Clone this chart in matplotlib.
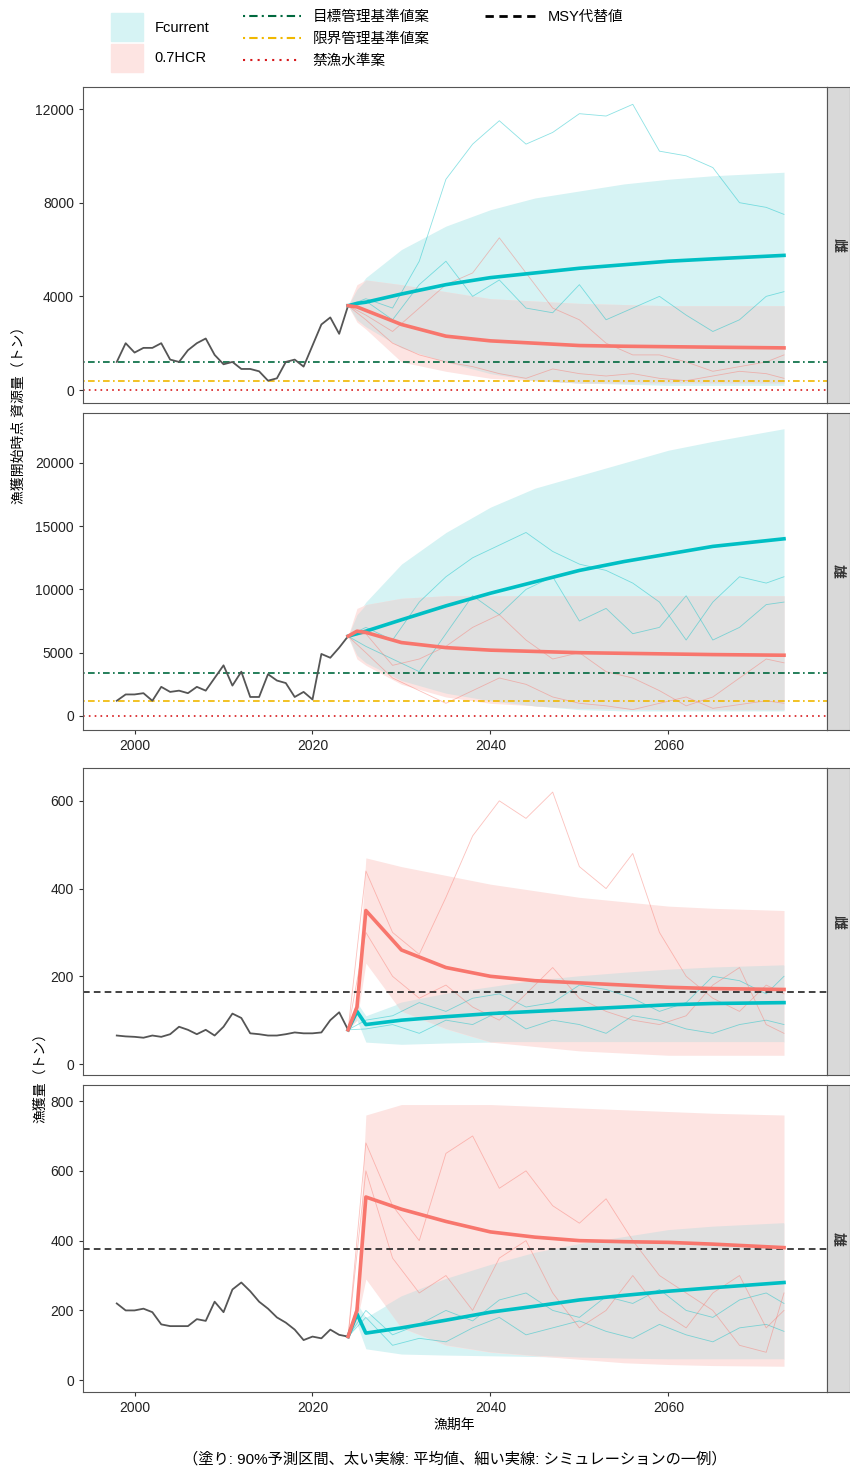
import matplotlib.pyplot as plt
from matplotlib.patches import Patch
from matplotlib.lines import Line2D

plt.rcParams['font.family'] = ['Liberation Sans', 'Noto Sans CJK JP', 'DejaVu Sans']

hist_years = list(range(1998, 2025))
band_years = [2024, 2025, 2026, 2030, 2035, 2040, 2045, 2050, 2055, 2060, 2065, 2073]
sim_years = [2024, 2026, 2029, 2032, 2035, 2038, 2041, 2044, 2047, 2050, 2053, 2056, 2059, 2062, 2065, 2068, 2071, 2073]

# panel 1: biomass, female
p1_hist = [1200, 2000, 1600, 1800, 1800, 2000, 1300, 1200, 1700, 2000, 2200, 1500, 1100, 1200, 900, 900,
           800, 400, 500, 1200, 1300, 1000, 1900, 2800, 3100, 2400, 3600]
p1_fc_mean = [3600, 3700, 3750, 4100, 4500, 4800, 5000, 5200, 5350, 5500, 5600, 5750]
p1_fc_hi = [3600, 4300, 4800, 6000, 7000, 7700, 8200, 8500, 8800, 9000, 9150, 9300]
p1_fc_lo = [3600, 3000, 2700, 1800, 1200, 700, 400, 300, 250, 200, 200, 200]
p1_hcr_mean = [3600, 3550, 3400, 2800, 2300, 2100, 2000, 1900, 1870, 1850, 1830, 1800]
p1_hcr_hi = [3600, 4500, 4700, 4500, 4200, 3900, 3800, 3700, 3650, 3600, 3600, 3600]
p1_hcr_lo = [3600, 2900, 2600, 1200, 800, 500, 400, 300, 300, 300, 300, 300]
p1_fc_sims = [[3600, 3900, 3500, 5500, 9000, 10500, 11500, 10500, 11000, 11800, 11700, 12200, 10200, 10000, 9500, 8000, 7800, 7500],
              [3600, 3800, 3000, 4500, 5500, 4000, 4700, 3500, 3300, 4500, 3000, 3500, 4000, 3200, 2500, 3000, 4000, 4200]]
p1_hcr_sims = [[3600, 3200, 2500, 3500, 4500, 5000, 6500, 5000, 3500, 3000, 2000, 1500, 1500, 1200, 800, 1000, 1200, 1500],
               [3600, 3000, 2000, 1500, 1200, 1000, 700, 500, 900, 700, 600, 700, 500, 400, 600, 800, 700, 500]]
p1_refs = [1200, 400, 0]

# panel 2: biomass, male
p2_hist = [1200, 1700, 1700, 1800, 1200, 2300, 1900, 2000, 1800, 2300, 2000, 3000, 4000, 2400, 3500, 1500,
           1500, 3300, 2800, 2600, 1500, 1900, 1300, 4900, 4600, 5400, 6300]
p2_fc_mean = [6300, 6500, 6700, 7600, 8700, 9700, 10600, 11500, 12200, 12800, 13400, 14000]
p2_fc_hi = [6300, 8000, 9000, 12000, 14500, 16500, 18000, 19000, 20000, 21000, 21700, 22700]
p2_fc_lo = [6300, 4800, 4200, 2800, 1800, 1200, 800, 500, 400, 400, 400, 400]
p2_hcr_mean = [6300, 6700, 6600, 5800, 5400, 5200, 5100, 5000, 4950, 4900, 4850, 4800]
p2_hcr_hi = [6300, 8500, 8800, 9300, 9500, 9500, 9500, 9500, 9500, 9500, 9500, 9500]
p2_hcr_lo = [6300, 4500, 4000, 2500, 1500, 1000, 800, 600, 550, 500, 500, 500]
p2_fc_sims = [[6300, 7000, 6000, 9000, 11000, 12500, 13500, 14500, 13000, 12000, 11500, 10500, 9000, 6000, 9000, 11000, 10500, 11000],
              [6300, 5500, 4500, 3500, 6500, 9500, 8000, 10000, 11000, 7500, 8500, 6500, 7000, 9500, 6000, 7000, 8800, 9000]]
p2_hcr_sims = [[6300, 6500, 4000, 4500, 5500, 7000, 8000, 6000, 4500, 5000, 3500, 3000, 2000, 800, 1500, 3000, 4500, 4200],
               [6300, 5000, 3000, 2000, 1000, 2000, 3000, 2500, 1500, 1000, 800, 500, 1000, 1500, 600, 900, 1200, 1000]]
p2_refs = [3400, 1150, 0]

# panel 3: catch, female
p3_hist = [65, 63, 62, 60, 65, 62, 68, 85, 78, 68, 78, 65, 85, 115, 105, 70, 68, 65, 65, 68, 72, 70, 70, 72,
           100, 118, 78]
p3_fc_mean = [78, 120, 90, 100, 108, 115, 120, 125, 130, 135, 138, 140]
p3_fc_hi = [78, 140, 110, 140, 160, 175, 190, 200, 208, 215, 220, 225]
p3_fc_lo = [78, 100, 50, 45, 48, 50, 50, 50, 50, 50, 50, 50]
p3_hcr_mean = [78, 130, 350, 260, 220, 200, 190, 185, 180, 175, 172, 170]
p3_hcr_hi = [78, 150, 470, 450, 430, 410, 395, 380, 370, 360, 355, 350]
p3_hcr_lo = [78, 100, 230, 120, 80, 50, 40, 30, 25, 20, 20, 20]
p3_fc_sims = [[78, 100, 110, 140, 120, 150, 160, 130, 140, 180, 170, 150, 120, 140, 200, 190, 160, 200],
              [78, 80, 90, 70, 100, 90, 120, 80, 100, 90, 70, 110, 100, 80, 70, 90, 100, 90]]
p3_hcr_sims = [[78, 440, 300, 250, 380, 520, 600, 560, 620, 450, 400, 480, 300, 200, 150, 120, 180, 160],
               [78, 300, 200, 150, 180, 130, 100, 160, 220, 150, 120, 100, 90, 110, 180, 220, 90, 70]]
p3_msy = 165

# panel 4: catch, male
p4_hist = [220, 200, 200, 205, 195, 160, 155, 155, 155, 175, 170, 225, 195, 260, 280, 255, 225, 205, 180, 165,
           145, 115, 125, 120, 145, 130, 125]
p4_fc_mean = [125, 190, 135, 150, 172, 195, 212, 230, 243, 255, 265, 280]
p4_fc_hi = [125, 220, 180, 240, 290, 330, 365, 390, 410, 430, 440, 450]
p4_fc_lo = [125, 160, 90, 75, 72, 70, 68, 65, 62, 60, 60, 60]
p4_hcr_mean = [125, 200, 525, 490, 455, 425, 410, 400, 397, 395, 390, 380]
p4_hcr_hi = [125, 230, 760, 790, 790, 790, 785, 780, 775, 770, 765, 760]
p4_hcr_lo = [125, 170, 290, 150, 100, 80, 70, 60, 50, 45, 42, 40]
p4_fc_sims = [[125, 200, 130, 160, 200, 170, 230, 250, 200, 180, 240, 220, 260, 200, 180, 230, 250, 220],
              [125, 180, 100, 120, 110, 150, 180, 130, 150, 170, 140, 120, 160, 130, 110, 150, 160, 140]]
p4_hcr_sims = [[125, 680, 500, 400, 650, 700, 550, 600, 500, 450, 520, 400, 300, 250, 200, 100, 80, 250],
               [125, 600, 350, 250, 300, 200, 350, 400, 250, 150, 200, 300, 200, 150, 250, 300, 150, 200]]
p4_msy = 375

CYAN = '#00BFC4'
PINK = '#F8766D'
FILL_C = '#d6f3f4'
FILL_P = '#fde4e2'
FILL_G = '#e0e0e0'

fig = plt.figure(figsize=(8.5, 14.72), dpi=100)

panels = [
    dict(pos=[0.0976, 0.7262, 0.875, 0.2147], ylim=(-555, 12940), yt=[0, 4000, 8000, 12000], sex='雌',
         d=(p1_hist, p1_fc_mean, p1_fc_hi, p1_fc_lo, p1_hcr_mean, p1_hcr_hi, p1_hcr_lo, p1_fc_sims, p1_hcr_sims),
         refs=p1_refs, msy=None, xt=False),
    dict(pos=[0.0976, 0.5041, 0.875, 0.2154], ylim=(-1107, 23950), yt=[0, 5000, 10000, 15000, 20000], sex='雄',
         d=(p2_hist, p2_fc_mean, p2_fc_hi, p2_fc_lo, p2_hcr_mean, p2_hcr_hi, p2_hcr_lo, p2_fc_sims, p2_hcr_sims),
         refs=p2_refs, msy=None, xt=True),
    dict(pos=[0.0976, 0.2697, 0.875, 0.2086], ylim=(-25, 675), yt=[0, 200, 400, 600], sex='雌',
         d=(p3_hist, p3_fc_mean, p3_fc_hi, p3_fc_lo, p3_hcr_mean, p3_hcr_hi, p3_hcr_lo, p3_fc_sims, p3_hcr_sims),
         refs=None, msy=p3_msy, xt=False),
    dict(pos=[0.0976, 0.0543, 0.875, 0.2086], ylim=(-34, 846), yt=[0, 200, 400, 600, 800], sex='雄',
         d=(p4_hist, p4_fc_mean, p4_fc_hi, p4_fc_lo, p4_hcr_mean, p4_hcr_hi, p4_hcr_lo, p4_fc_sims, p4_hcr_sims),
         refs=None, msy=p4_msy, xt=True),
]

for p in panels:
    ax = fig.add_axes(p['pos'])
    hist, fcm, fch, fcl, hm, hh, hl, fcs, hs = p['d']
    ax.fill_between(band_years, fcl, fch, color=FILL_C, lw=0)
    ax.fill_between(band_years, hl, hh, color=FILL_P, lw=0)
    g_lo = [max(a, b) for a, b in zip(fcl, hl)]
    g_hi = [min(a, b) for a, b in zip(fch, hh)]
    ax.fill_between(band_years, g_lo, g_hi, where=[h >= l for h, l in zip(g_hi, g_lo)],
                    color=FILL_G, lw=0, interpolate=True)
    for s in fcs:
        ax.plot(sim_years, s, color=CYAN, lw=0.6, alpha=0.45)
    for s in hs:
        ax.plot(sim_years, s, color=PINK, lw=0.6, alpha=0.45)
    if p['refs'] is not None:
        ax.axhline(p['refs'][0], color='#00693e', lw=1.2, ls=(0, (1, 2, 4, 2)))
        ax.axhline(p['refs'][1], color='#f0b800', lw=1.2, ls=(0, (1, 2, 4, 2)))
        ax.axhline(p['refs'][2], color='#d7191c', lw=1.2, ls=(0, (1, 2.5)))
    if p['msy'] is not None:
        ax.axhline(p['msy'], color='#222222', lw=1.2, ls=(0, (4, 2.5)))
    ax.plot(hist_years, hist, color='#555555', lw=1.3)
    ax.plot(band_years, fcm, color=CYAN, lw=2.6)
    ax.plot(band_years, hm, color=PINK, lw=2.6)
    ax.set_xlim(1994.2, 2077.8)
    ax.set_ylim(*p['ylim'])
    ax.set_yticks(p['yt'])
    ax.set_xticks([2000, 2020, 2040, 2060])
    ax.tick_params(labelsize=10, length=3, color='#333333', labelcolor='#222222')
    if not p['xt']:
        ax.tick_params(axis='x', labelbottom=False, length=0)
    for sp in ax.spines.values():
        sp.set_color('#555555')
        sp.set_linewidth(0.8)
    l, b, w, h = p['pos']
    sax = fig.add_axes([l + w, b, 0.027, h])
    sax.set_facecolor('#d9d9d9')
    sax.set_xticks([])
    sax.set_yticks([])
    for sp in sax.spines.values():
        sp.set_color('#555555')
    sax.text(0.5, 0.5, p['sex'], rotation=-90, ha='center', va='center', fontsize=10, fontweight='bold',
             color='#333333', transform=sax.transAxes)

fig.text(0.022, 0.72, '漁獲開始時点 資源量（トン）', rotation=90, ha='center', va='center', fontsize=10)
fig.text(0.047, 0.27, '漁獲量（トン）', rotation=90, ha='center', va='center', fontsize=10)
fig.text(0.535, 0.032, '漁期年', ha='center', va='center', fontsize=10)
fig.text(0.535, 0.009, '（塗り: 90%予測区間、太い実線: 平均値、細い実線: シミュレーションの一例）',
         ha='center', va='center', fontsize=11)

fill_handles = [Patch(color=FILL_C), Patch(color=FILL_P)]
fig.legend(fill_handles, ['Fcurrent', '0.7HCR'], loc='upper left', bbox_to_anchor=(0.115, 1.0),
           frameon=False, fontsize=10.5, handlelength=2.2, handleheight=2.6, labelspacing=0.15)
ref_handles = [Line2D([], [], color='#00693e', lw=1.5, ls=(0, (1, 2, 4, 2))),
               Line2D([], [], color='#f0b800', lw=1.5, ls=(0, (1, 2, 4, 2))),
               Line2D([], [], color='#d7191c', lw=1.5, ls=(0, (1, 2.5)))]
fig.legend(ref_handles, ['目標管理基準値案', '限界管理基準値案', '禁漁水準案'], loc='upper left',
           bbox_to_anchor=(0.27, 1.002), frameon=False, fontsize=10.5, handlelength=4, labelspacing=0.55)
fig.legend([Line2D([], [], color='black', lw=2, ls=(0, (3, 2)))], ['MSY代替値'], loc='upper left',
           bbox_to_anchor=(0.555, 1.002), frameon=False, fontsize=10.5, handlelength=3.5)

fig.savefig('out.png', dpi=100)
